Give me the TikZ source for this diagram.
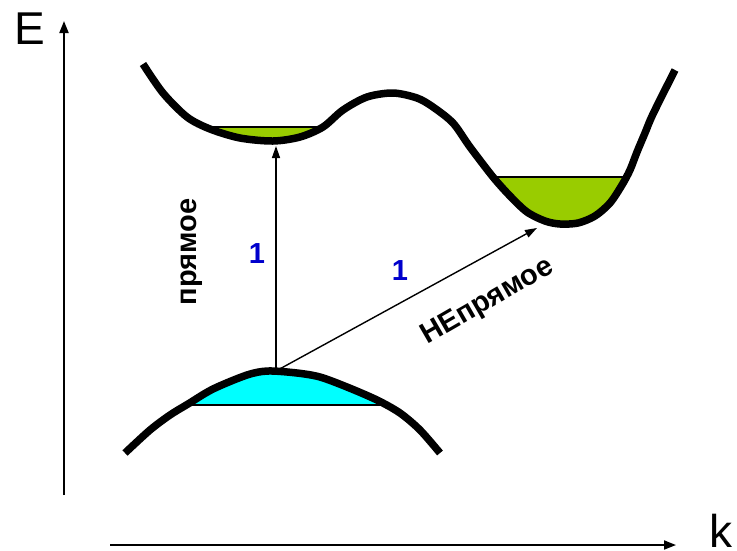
\documentclass[tikz,border=0pt]{standalone}
\usepackage{fontspec}
\setmainfont{Liberation Sans}
\usetikzlibrary{arrows.meta}
\definecolor{bandgreen}{RGB}{153,204,0}
\definecolor{bandcyan}{RGB}{0,255,255}
\definecolor{labelblue}{RGB}{0,0,204}
\tikzset{
  cband/.style={insert path={plot[smooth] coordinates {(143,64) (163,93) (187,117) (210,129) (240,138) (273,141) (300,137) (323,127) (343,110) (367,97) (393,93) (417,98) (433,107) (453,123) (470,147) (493,177) (510,196) (527,212) (545,221) (560,224) (578,223) (595,216) (610,203) (622,185) (630,170) (637,152) (645,133) (653,114) (675,70)}}},
  vband/.style={insert path={plot[smooth] coordinates {(125,453) (150,430) (170,415) (188,404) (213,389) (247,375) (268,371) (297,373) (320,377) (347,387) (377,400) (400,413) (420,430) (440,453)}}},
  bandline/.style={line width=7.5pt, line cap=butt, line join=round},
  axisline/.style={line width=1.8pt, -{Triangle[length=12pt,width=9pt]}},
  transarrow/.style={line width=1.4pt, -{Triangle[length=12pt,width=8pt]}},
  axislabel/.style={font=\fontsize{46}{50}\selectfont, inner sep=0pt},
  translabel/.style={font=\fontsize{29}{32}\selectfont\bfseries, inner sep=0pt},
  numlabel/.style={font=\fontsize{29}{32}\selectfont\bfseries, text=labelblue, inner sep=0pt}
}
\begin{document}
\begin{tikzpicture}[x=1pt,y=-1pt]
\useasboundingbox (0,0) rectangle (737,550);
% fills
\begin{scope}
  \clip[cband] -- cycle;
  \fill[bandgreen] (180,127) rectangle (340,170);
  \draw[line width=1.2pt] (180,127) -- (340,127);
  \fill[bandgreen] (465,177) rectangle (665,240);
  \draw[line width=1.2pt] (465,177) -- (665,177);
\end{scope}
\begin{scope}
  \clip[vband] -- cycle;
  \fill[bandcyan] (110,360) rectangle (460,405);
  \draw[line width=1.2pt] (110,405) -- (460,405);
\end{scope}
% bands
\draw[bandline][cband];
\draw[bandline][vband];
% axes
\coordinate (Ebot) at (64,495);
\coordinate (Etop) at (64,21);
\coordinate (kleft) at (110,545);
\coordinate (kright) at (676,545);
\draw[axisline] (Ebot) -- (Etop);
\draw[axisline] (kleft) -- (kright);
\node[axislabel] (lblE) at (30,29) {E};
\node[axislabel] (lblk) at (721,531) {k};
% transitions
\coordinate (vtop) at (276,371);
\coordinate (cmin1) at (276,146);
\coordinate (cmin2) at (537,228);
\draw[transarrow] (vtop) -- (cmin1);
\draw[transarrow] (vtop) -- (cmin2);
\node[translabel, rotate=90] (lblDirect) at (192,252) {прямое};
\node[translabel, rotate=30] (lblIndirect) at (488,302) {НЕпрямое};
\node[numlabel] (one1) at (257,254) {1};
\node[numlabel] (one2) at (400,271) {1};
\end{tikzpicture}
\end{document}
